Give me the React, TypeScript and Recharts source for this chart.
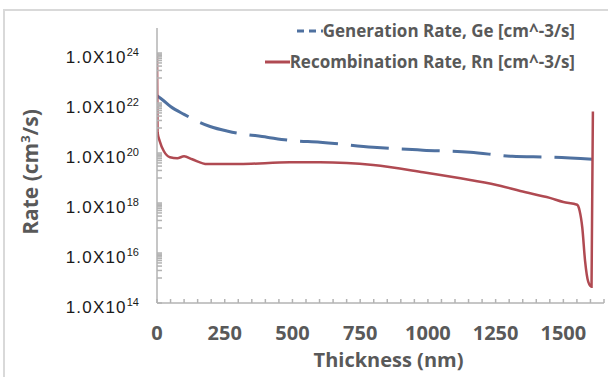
import React from "react";
import { LineChart, Line, XAxis, YAxis, Legend, Label } from "recharts";

// Generation rate Ge along the device thickness
const thicknessGe = [0, 20, 50, 100, 196, 262, 406, 490, 602, 798, 982, 1156, 1311, 1450, 1610];
const rateGe = [
    1.95e22, 1.35e22, 7.2e21, 3.5e21, 1.15e21, 7.4e20, 4.3e20, 3.2e20, 2.7e20, 1.7e20, 1.3e20,
    1.07e20, 7.4e19, 6.8e19, 5.6e19,
];

// Recombination rate Rn along the device thickness
const thicknessRn = [
    0, 2, 10, 25, 48, 75, 100, 130, 185, 306, 490, 602, 700, 798, 982, 1156, 1270, 1341, 1450,
    1500, 1551, 1560, 1570, 1580, 1592, 1604, 1609,
];
const rateRn = [
    1.0e24, 6.8e20, 3.0e20, 1.2e20, 6.8e19, 6.2e19, 7.4e19, 5.6e19, 3.6e19, 3.6e19, 4.3e19,
    4.3e19, 4.0e19, 3.3e19, 1.7e19, 8.3e18, 4.8e18, 3.0e18, 1.6e18, 1.1e18, 8.5e17, 4.9e17,
    1.0e17, 5.0e15, 7.0e14, 4.5e14, 4.6e21,
];

const seriesNames = ["Generation Rate, Ge [cm^-3/s]", "Recombination Rate, Rn [cm^-3/s]"];

const xTicks = [0, 250, 500, 750, 1000, 1250, 1500];
const yTicks = [1e14, 1e16, 1e18, 1e20, 1e22, 1e24];

// inside tick marks: every 50 nm, and 1..9 x 10^n below each labelled decade
const xTickMarks: number[] = [];
for (let t = 0; t <= 1650; t += 50) xTickMarks.push(t);
const yTickMarks: number[] = [...yTicks];
for (let n = 15; n <= 23; n += 2) {
    for (let k = 1; k <= 9; k++) yTickMarks.push(k * Math.pow(10, n));
}
yTickMarks.sort((a, b) => a - b);

const AXIS_GREY = "#b3b3b3";
const TEXT_GREY = "#595959";
const GE_BLUE = "#4f71a0";
const RN_RED = "#b04a52";
const BOLD_FONT = "'Open Sans', sans-serif";

const geData = thicknessGe.map((x, i) => ({ x, ge: rateGe[i] }));
const rnData = thicknessRn.map((x, i) => ({ x, rn: rateRn[i] }));

const RateTick = ({ x, y, payload }: any) => {
    if (!yTicks.includes(payload.value)) return <g />;
    const exp = Math.round(Math.log10(payload.value));
    return (
        <text
            x={139}
            y={y + 10}
            textAnchor="end"
            fontFamily="'Liberation Sans', Arial, sans-serif"
            fontSize={17}
            letterSpacing={1.2}
            fill="#1a1a1a"
        >
            1.0X10
            <tspan dy={-7} fontSize={11} letterSpacing={0}>
                {exp}
            </tspan>
        </text>
    );
};

const ThicknessTick = ({ x, payload }: any) => {
    if (!xTicks.includes(payload.value)) return <g />;
    return (
        <text
            x={x}
            y={340}
            textAnchor="middle"
            fontFamily={BOLD_FONT}
            fontWeight={700}
            fontSize={20}
            fill={TEXT_GREY}
        >
            {payload.value}
        </text>
    );
};

const RateTitle = () => (
    <text
        transform="translate(38, 172) rotate(-90)"
        textAnchor="middle"
        fontFamily={BOLD_FONT}
        fontWeight={700}
        fontSize={21}
        fill={TEXT_GREY}
    >
        Rate (cm
        <tspan dy={-8} fontSize={13}>
            3
        </tspan>
        <tspan dy={8}>/s)</tspan>
    </text>
);

const LegendBox = () => (
    <div
        style={{
            display: "flex",
            flexDirection: "column",
            alignItems: "flex-end",
            fontFamily: BOLD_FONT,
            fontWeight: 700,
            fontSize: 17,
            color: TEXT_GREY,
            lineHeight: "31px",
            whiteSpace: "nowrap",
        }}
    >
        <div style={{ display: "flex", alignItems: "center" }}>
            <svg width={26} height={8}>
                <line x1={0} y1={4} x2={26} y2={4} stroke={GE_BLUE} strokeWidth={3} strokeDasharray="7 5" />
            </svg>
            <span>{seriesNames[0]}</span>
        </div>
        <div style={{ display: "flex", alignItems: "center" }}>
            <svg width={25} height={8}>
                <line x1={0} y1={4} x2={25} y2={4} stroke={RN_RED} strokeWidth={3} />
            </svg>
            <span>{seriesNames[1]}</span>
        </div>
    </div>
);

const App = () => {
    return (
        <div
            style={{
                position: "fixed",
                top: 0,
                left: 0,
                width: 608,
                height: 377,
                overflow: "hidden",
                background: "#fff",
            }}
        >
            <div
                style={{
                    position: "absolute",
                    left: 3,
                    top: 9,
                    width: 640,
                    height: 400,
                    border: "2px solid #d9d9d9",
                }}
            />
            <div style={{ position: "absolute", left: 0, top: 0 }}>
                <LineChart width={608} height={377} margin={{ top: 28, right: 4, bottom: 0, left: 7 }}>
                    <XAxis
                        dataKey="x"
                        type="number"
                        domain={[0, 1650]}
                        allowDataOverflow
                        ticks={xTickMarks}
                        interval={0}
                        tickSize={-4}
                        tickMargin={0}
                        height={74}
                        stroke={AXIS_GREY}
                        strokeWidth={1.5}
                        tick={<ThicknessTick />}
                    >
                        <Label
                            value="Thickness (nm)"
                            position="insideBottom"
                            offset={10}
                            dx={8}
                            fontFamily={BOLD_FONT}
                            fontWeight={700}
                            fontSize={20}
                            fill={TEXT_GREY}
                        />
                    </XAxis>
                    <YAxis
                        scale="log"
                        domain={[1e14, 1e25]}
                        allowDataOverflow
                        ticks={yTickMarks}
                        interval={0}
                        width={150}
                        tickSize={-5}
                        stroke={AXIS_GREY}
                        strokeWidth={1.5}
                        tick={<RateTick />}
                        label={<RateTitle />}
                    />
                    <Legend
                        layout="vertical"
                        align="center"
                        verticalAlign="middle"
                        content={<LegendBox />}
                        wrapperStyle={{ top: 15, left: 250, width: 325 }}
                    />
                    <Line
                        data={geData}
                        dataKey="ge"
                        name={seriesNames[0]}
                        type="monotone"
                        stroke={GE_BLUE}
                        strokeWidth={3}
                        strokeDasharray="38 13"
                        dot={false}
                        isAnimationActive={false}
                    />
                    <Line
                        data={rnData}
                        dataKey="rn"
                        name={seriesNames[1]}
                        type="monotone"
                        stroke={RN_RED}
                        strokeWidth={2.5}
                        dot={false}
                        isAnimationActive={false}
                    />
                </LineChart>
            </div>
        </div>
    );
};

export default App;
